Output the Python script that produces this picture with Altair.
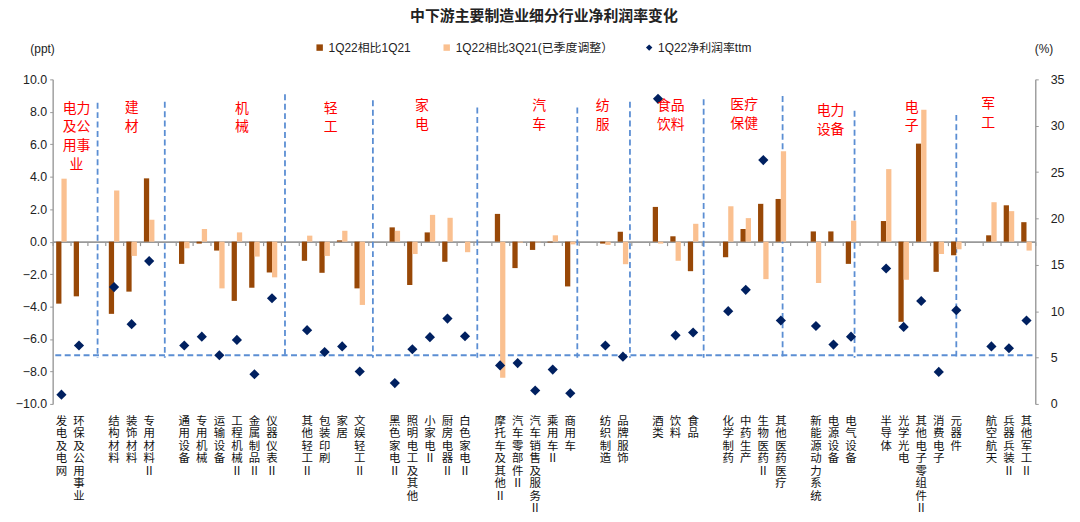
import altair as alt
import pandas as pd

# ---------------- data ----------------
GROUP_COUNTS = [2, 3, 6, 4, 5, 5, 2, 3, 4, 3, 5, 3]
GROUP_LABEL_LINES = [
    ["电力", "及公", "用事", "业\u3000"],
    ["建", "材"],
    ["机", "械"],
    ["轻", "工"],
    ["家", "电"],
    ["汽", "车"],
    ["纺", "服"],
    ["食品", "饮料"],
    ["医疗", "保健"],
    ["电力", "设备"],
    ["电", "子"],
    ["军", "工"],
]
CATEGORIES = [
    "发电及电网", "环保及公用事业",
    "结构材料", "装饰材料", "专用材料Ⅱ",
    "通用设备", "专用机械", "运输设备", "工程机械Ⅱ", "金属制品Ⅱ", "仪器仪表Ⅱ",
    "其他轻工Ⅱ", "包装印刷", "家居", "文娱轻工Ⅱ",
    "黑色家电Ⅱ", "照明电工及其他", "小家电Ⅱ", "厨房电器Ⅱ", "白色家电Ⅱ",
    "摩托车及其他Ⅱ", "汽车零部件Ⅱ", "汽车销售及服务Ⅱ", "乘用车Ⅱ", "商用车",
    "纺织制造", "品牌服饰",
    "酒类", "饮料", "食品",
    "化学制药", "中药生产", "生物医药Ⅱ", "其他医药医疗",
    "新能源动力系统", "电源设备", "电气设备",
    "半导体", "光学光电", "其他电子零组件Ⅱ", "消费电子", "元器件",
    "航空航天", "兵器兵装Ⅱ", "其他军工Ⅱ",
]
VS_1Q21 = [
    -3.82, -3.37,
    -4.45, -3.08, 3.90,
    -1.37, -0.12, -0.55, -3.65, -2.84, -1.90,
    -1.18, -1.92, 0.08, -2.88,
    0.88, -2.67, 0.57, -1.24, 0.00,
    1.71, -1.63, -0.51, -0.05, -2.76,
    -0.12, 0.61,
    2.14, 0.33, -1.82,
    -0.96, 0.78, 2.33, 2.63,
    0.63, 0.63, -1.37,
    1.27, -4.94, 6.04, -1.86, -0.84,
    0.39, 2.24, 1.20,
]
VS_3Q21 = [
    3.88, 0.00,
    3.15, -0.88, 1.35,
    -0.41, 0.78, -2.88, 0.57, -0.92, -2.20,
    0.37, -0.88, 0.67, -3.90,
    0.67, -0.76, 1.65, 1.47, -0.65,
    -8.39, -0.06, -0.05, 0.39, -0.17,
    -0.20, -1.39,
    -0.12, -1.18, 1.10,
    2.18, 1.45, -2.31, 5.57,
    -2.55, 0.00, 1.29,
    4.47, -2.35, 8.12, -0.76, -0.47,
    2.43, 1.88, -0.55,
]
NPM_TTM = [
    1.0, 6.3,
    12.6, 8.6, 15.4,
    6.3, 7.25, 5.25, 6.9, 3.2, 11.4,
    7.95, 5.6, 6.2, 3.5,
    2.25, 5.9, 7.2, 9.2, 7.3,
    4.15, 4.4, 1.45, 3.7, 1.15,
    6.3, 5.1,
    32.9, 7.4, 7.7,
    10.0, 12.3, 26.3, 9.0,
    8.4, 6.4, 7.25,
    14.6, 8.3, 11.1, 3.45, 10.1,
    6.2, 6.0, 9.0,
]
SERIES = ["1Q22相比1Q21", "1Q22相比3Q21(已季度调整）", "1Q22净利润率ttm"]

# annotation anchors (x in slot units, y in ppt)
GROUP_LABEL_X = [1.36, 4.51, 10.79, 15.84, 21.04, 27.73, 31.35, 35.23, 39.41, 44.33, 48.96, 53.32]
GROUP_LABEL_Y = [8.62, 8.67, 8.62, 8.62, 8.79, 8.79, 8.79, 8.79, 8.83, 8.48, 8.69, 8.89]
SEP_X = [2.56, 6.39, 13.24, 18.25, 24.2, 29.9, 32.9, 37.1, 41.6, 45.7, 51.5]
SEP_TOP = [8.56, 8.62, 9.08, 8.71, 8.26, 8.26, 8.62, 8.77, 8.97, 8.06, 7.81]
REF_LEVEL = -7.0

# ---------------- layout helpers ----------------
W, H = 990, 327
FONT = "Liberation Sans, Noto Sans CJK SC"
COLORS = ["#984807", "#FAC090", "#002060"]
HALF = 0.3

pos = []
slot = 0
for gi, n in enumerate(GROUP_COUNTS):
    for _ in range(n):
        pos.append(slot + 0.5)
        slot += 1
    if gi < len(GROUP_COUNTS) - 1:
        slot += 1
N_SLOTS = slot

n = len(CATEGORIES)
bars = pd.DataFrame({
    "cat": CATEGORIES * 2,
    "series": [SERIES[0]] * n + [SERIES[1]] * n,
    "value": VS_1Q21 + VS_3Q21,
    "x0": [p - HALF for p in pos] + pos,
    "x1": pos + [p + HALF for p in pos],
})
pts = pd.DataFrame({"cat": CATEGORIES, "pos": pos, "ttm": NPM_TTM, "series": SERIES[2]})
labels = pd.DataFrame({"pos": pos, "label": ["\n".join(list(c)) for c in CATEGORIES]})
glabels = pd.DataFrame({
    "gx": GROUP_LABEL_X,
    "gy": GROUP_LABEL_Y,
    "text": ["\n".join(l) for l in GROUP_LABEL_LINES],
})
lines = pd.DataFrame({
    "x": [0.15] + SEP_X,
    "x2": [float(N_SLOTS)] + SEP_X,
    "y": [REF_LEVEL] + SEP_TOP,
    "y2": [REF_LEVEL] + [REF_LEVEL - 0.15] * len(SEP_X),
})

xscale = alt.Scale(domain=[0, N_SLOTS], nice=False, zero=False)
xaxis = alt.Axis(orient="bottom", offset=-H / 2, values=list(range(N_SLOTS + 1)),
                 labels=False, title=None, grid=False, tickSize=4, tickColor="#999999",
                 domainColor="#999999", domainWidth=1.6, tickWidth=1.2)
left_scale = alt.Scale(domain=[-10, 10], nice=False, zero=False)
right_scale = alt.Scale(domain=[0, 35], nice=False, zero=False)

legend = alt.Legend(title=None, orient="none", legendX=263, legendY=-38, direction="horizontal",
                    columns=3, columnPadding=30, symbolSize=42, labelFontSize=12, labelFont=FONT,
                    labelColor="#222222", labelOffset=3, symbolStrokeWidth=0)
color = alt.Color("series:N", scale=alt.Scale(domain=SERIES, range=COLORS), legend=legend)

dash = alt.Chart(lines).mark_rule(color="#5B8ED3", strokeDash=[6, 3.5], strokeWidth=1.8).encode(
    x=alt.X("x:Q", scale=xscale, axis=xaxis),
    x2="x2:Q",
    y=alt.Y("y:Q", scale=left_scale, axis=None),
    y2="y2:Q",
)

bar_layer = alt.Chart(bars).mark_rect().encode(
    x=alt.X("x0:Q", scale=xscale, axis=xaxis),
    x2="x1:Q",
    y=alt.Y("value:Q", scale=left_scale,
            axis=alt.Axis(orient="left", values=list(range(-10, 11, 2)), format=".1f", grid=False,
                          tickSize=3, tickColor="#999999", domainColor="#999999", domainWidth=1.4,
                          labelFontSize=12.5, labelFont=FONT, labelColor="#222222", labelPadding=3,
                          title="(ppt)", titleAngle=0, titleAlign="left", titleBaseline="middle",
                          titleX=-23, titleY=-31, titleFontWeight="normal", titleFontSize=12,
                          titleFont=FONT, titleColor="#222222")),
    y2=alt.datum(0),
    color=color,
)

pt_layer = alt.Chart(pts).mark_point(filled=True, size=105, opacity=1).encode(
    x=alt.X("pos:Q", scale=xscale, axis=xaxis),
    y=alt.Y("ttm:Q", scale=right_scale,
            axis=alt.Axis(orient="right", values=list(range(0, 36, 5)), format="d", grid=False,
                          tickSize=3, tickColor="#999999", domainColor="#999999", domainWidth=1.4,
                          labelFontSize=12.5, labelFont=FONT, labelColor="#222222", labelPadding=12,
                          title="(%)", titleAngle=0, titleAlign="left", titleBaseline="middle",
                          titleX=-1, titleY=-31, titleFontWeight="normal", titleFontSize=12,
                          titleFont=FONT, titleColor="#222222")),
    color=color,
    shape=alt.Shape("series:N", scale=alt.Scale(domain=SERIES, range=["square", "square", "diamond"]),
                    legend=legend),
)

glabel_layer = alt.Chart(glabels).mark_text(
    color="#FF0000", fontSize=14, font=FONT, lineBreak="\n", lineHeight=18.8,
    baseline="top", align="center").encode(
    x=alt.X("gx:Q", scale=xscale, axis=xaxis),
    y=alt.Y("gy:Q", scale=left_scale, axis=None),
    text="text:N",
)

xlabel_layer = alt.Chart(labels).mark_text(
    color="#111111", fontSize=11.5, font=FONT, lineBreak="\n", lineHeight=12.6,
    baseline="top", align="center").encode(
    x=alt.X("pos:Q", scale=xscale, axis=xaxis),
    y=alt.value(H + 12),
    text="label:N",
)

chart = alt.layer(dash, bar_layer, pt_layer, glabel_layer, xlabel_layer).resolve_scale(
    y="independent"
).properties(
    width=W, height=H,
    title=alt.TitleParams("中下游主要制造业细分行业净利润率变化", fontSize=15, fontWeight="bold",
                          font=FONT, color="#222222", anchor="middle", offset=18),
    autosize=alt.AutoSizeParams(type="none"),
    padding={"left": 45, "top": 70, "right": 37, "bottom": 109},
).configure_view(stroke=None)

chart.save("out.html", embed_options={"renderer": "svg", "actions": False})
